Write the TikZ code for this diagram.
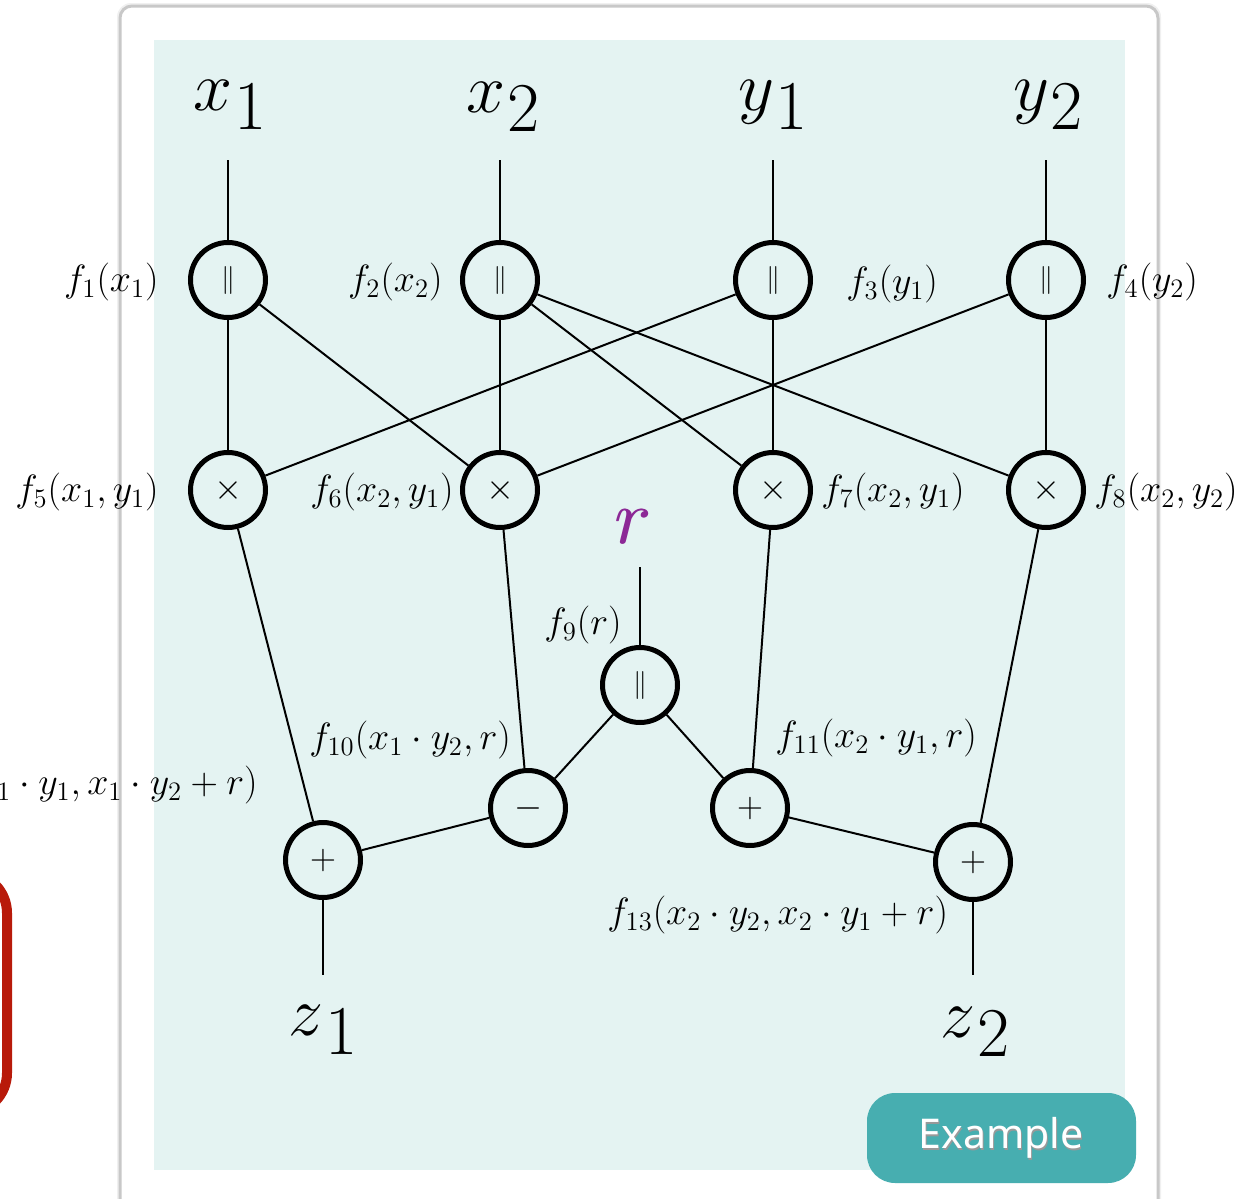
\RequirePackage{fix-cm}
\documentclass[tikz,border=0pt]{standalone}
\usepackage{fontspec}
\newfontfamily\btnfont{Noto Sans}
\definecolor{panel}{RGB}{228,243,242}
\definecolor{btn}{RGB}{71,174,176}
\definecolor{rcol}{RGB}{140,40,150}
\definecolor{redbox}{RGB}{184,26,10}
\definecolor{cardline}{RGB}{200,200,200}
\newcommand{\biglab}[2]{\fontsize{35}{40}\selectfont$#1$\kern0.02em\raisebox{-0.28em}{#2}}
\newcommand{\opsym}[1]{\fontsize{18}{20}\selectfont$#1$}
\begin{document}
\begin{tikzpicture}[x=0.5pt,y=-0.5pt,
  op/.style={circle,draw=black,line width=2.5pt,minimum size=37.5pt,inner sep=0pt,fill=panel},
  lab/.style={font=\fontsize{19}{22}\selectfont,inner sep=0pt},
  big/.style={inner sep=0pt},
  edge/.style={line width=1pt}]
\useasboundingbox (0,0) rectangle (1244,1199);
% card and panel
\fill[black!6,rounded corners=7pt] (117,3) rectangle (1161,1215);
\filldraw[fill=white,draw=cardline,line width=1.5pt,rounded corners=6pt] (120,6) rectangle (1158,1212);
\fill[panel] (154,40) rectangle (1125,1170);
% red box
\draw[redbox,line width=5pt,rounded corners=20pt] (-120,873) rectangle (7,1113);
% operator nodes
\node[op] (n1) at (228,280) {\fontsize{14}{16}\selectfont$\parallel$};
\node[op] (n2) at (500,280) {\fontsize{14}{16}\selectfont$\parallel$};
\node[op] (n3) at (773,280) {\fontsize{14}{16}\selectfont$\parallel$};
\node[op] (n4) at (1046,280) {\fontsize{14}{16}\selectfont$\parallel$};
\node[op] (n5) at (228,490) {\opsym{\times}};
\node[op] (n6) at (500,490) {\opsym{\times}};
\node[op] (n7) at (773,490) {\opsym{\times}};
\node[op] (n8) at (1046,490) {\opsym{\times}};
\node[op] (n9) at (640,685) {\fontsize{14}{16}\selectfont$\parallel$};
\node[op] (n10) at (528,808) {\opsym{-}};
\node[op] (n11) at (750,808) {\opsym{+}};
\node[op] (n12) at (323,860) {\opsym{+}};
\node[op] (n13) at (973,862) {\opsym{+}};
% inputs / outputs
\node[big] (x1) at (230,105) {\biglab{x}{1}};
\node[big] (x2) at (503,107) {\biglab{x}{2}};
\node[big] (y1) at (773,105) {\biglab{y}{1}};
\node[big] (y2) at (1048,105) {\biglab{y}{2}};
\node[big,text=rcol] (rin) at (633,527) {\fontsize{39}{42}\selectfont$r$};
\node[big,text=rcol] at (634,527) {\fontsize{39}{42}\selectfont$r$};
\node[big] (z1) at (323,1030) {\biglab{z}{1}};
\node[big] (z2) at (975,1032) {\biglab{z}{2}};
\coordinate (c1) at (228,160);
\coordinate (c2) at (500,160);
\coordinate (c3) at (773,160);
\coordinate (c4) at (1046,160);
\coordinate (cr) at (640,567);
\coordinate (cz1) at (323,975);
\coordinate (cz2) at (973,975);
% edges
\draw[edge] (c1) -- (n1);
\draw[edge] (c2) -- (n2);
\draw[edge] (c3) -- (n3);
\draw[edge] (c4) -- (n4);
\draw[edge] (n1) -- (n5);
\draw[edge] (n1) -- (n6);
\draw[edge] (n2) -- (n6);
\draw[edge] (n2) -- (n7);
\draw[edge] (n2) -- (n8);
\draw[edge] (n3) -- (n5);
\draw[edge] (n3) -- (n7);
\draw[edge] (n4) -- (n6);
\draw[edge] (n4) -- (n8);
\draw[edge] (n5) -- (n12);
\draw[edge] (n6) -- (n10);
\draw[edge] (n7) -- (n11);
\draw[edge] (n8) -- (n13);
\draw[edge] (cr) -- (n9);
\draw[edge] (n9) -- (n10);
\draw[edge] (n9) -- (n11);
\draw[edge] (n10) -- (n12);
\draw[edge] (n11) -- (n13);
\draw[edge] (n12) -- (cz1);
\draw[edge] (n13) -- (cz2);
% labels
\node[lab,anchor=east] (l1) at (159,282) {$f_{1}(x_{1})$};
\node[lab,anchor=east] (l2) at (443,282) {$f_{2}(x_{2})$};
\node[lab,anchor=west] (l3) at (846,284) {$f_{3}(y_{1})$};
\node[lab,anchor=west] (l4) at (1106,282) {$f_{4}(y_{2})$};
\node[lab,anchor=east] (l5) at (159,492) {$f_{5}(x_{1},y_{1})$};
\node[lab,anchor=east] (l6) at (454,492) {$f_{6}(x_{2},y_{1})$};
\node[lab,anchor=west] (l7) at (821,492) {$f_{7}(x_{2},y_{1})$};
\node[lab,anchor=west] (l8) at (1094,492) {$f_{8}(x_{2},y_{2})$};
\node[lab] (l9) at (583,625) {$f_{9}(r)$};
\node[lab,anchor=west] (l10) at (309,740) {$f_{10}(x_{1}\cdot y_{2},r)$};
\node[lab,anchor=west] (l11) at (775,738) {$f_{11}(x_{2}\cdot y_{1},r)$};
\node[lab,anchor=east] (l12) at (258,785) {$f_{12}(x_{1}\cdot y_{1},x_{1}\cdot y_{2}+r)$};
\node[lab,anchor=west] (l13) at (607,915) {$f_{13}(x_{2}\cdot y_{2},x_{2}\cdot y_{1}+r)$};
% button
\fill[btn,rounded corners=14pt] (867,1093) rectangle (1136,1183);
\node[text=black!40,font=\btnfont\fontsize{20.5}{24}\selectfont] at (1002,1140) {Example};
\node[text=white,font=\btnfont\fontsize{20.5}{24}\selectfont] (btn) at (1001,1138) {Example};
\end{tikzpicture}
\end{document}
